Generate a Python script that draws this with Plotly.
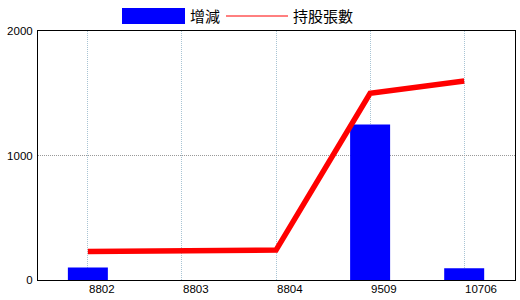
import plotly.graph_objects as go

categories = ["8802", "8803", "8804", "9509", "10706"]
change_values = [100, None, None, 1250, 95]
holding_values = [228, 238, 240, 1500, 1598]
y_ticks = [0, 1000, 2000]
bar_name = "增減"
line_name = "持股張數"

fig = go.Figure()
fig.add_trace(go.Bar(x=categories, y=change_values, name=bar_name,
                     marker=dict(color="#0000FF", line=dict(width=0)), width=0.425))
fig.add_trace(go.Scatter(x=categories, y=holding_values, name=line_name, mode="lines",
                         line=dict(color="#FF0000", width=5.5)))

L, R, T, B = 38, 515, 31, 280
W, H = 477, 249
def px(x): return (x - L) / W
def py(y): return (B - y) / H

tick_font = dict(family="Liberation Sans", size=11.5, color="black")

annotations = [
    dict(text=bar_name, xref="paper", yref="paper", x=px(188), y=py(16),
         xanchor="left", yanchor="middle", showarrow=False,
         font=dict(family="Noto Sans CJK TC", size=15, color="black")),
    dict(text=line_name, xref="paper", yref="paper", x=px(291), y=py(16),
         xanchor="left", yanchor="middle", showarrow=False,
         font=dict(family="Noto Sans CJK TC", size=15, color="black")),
]
for i, c in enumerate(categories):
    annotations.append(dict(text=c, x=i, xref="x", yref="paper", y=py(281),
                            xanchor="left", yanchor="top", xshift=-1, showarrow=False,
                            font=tick_font))

fig.update_layout(
    width=520, height=300,
    margin=dict(l=L, r=520 - R, t=T, b=300 - B),
    paper_bgcolor="white", plot_bgcolor="white",
    showlegend=False,
    font=tick_font,
    xaxis=dict(type="category", range=[-0.53, 4.54], showgrid=True,
               gridcolor="#A8C4D4", griddash="1px,1px", gridwidth=1,
               showline=True, linecolor="black", linewidth=1, mirror=True,
               ticks="", showticklabels=False, zeroline=False, automargin=False),
    yaxis=dict(range=[0, 2000], tickvals=y_ticks, showgrid=True,
               gridcolor="#999999", griddash="1px,1px", gridwidth=1,
               showline=True, linecolor="black", linewidth=1, mirror=True,
               ticks="", ticklabelstandoff=2, zeroline=False, automargin=False),
    shapes=[
        dict(type="rect", xref="paper", yref="paper", x0=px(122), x1=px(185),
             y0=py(24), y1=py(8), fillcolor="#0000FF", line=dict(width=0)),
        dict(type="line", xref="paper", yref="paper", x0=px(226), x1=px(288),
             y0=py(16), y1=py(16), line=dict(color="#FF0000", width=1)),
    ],
    annotations=annotations,
)
fig.write_html("out.html")
